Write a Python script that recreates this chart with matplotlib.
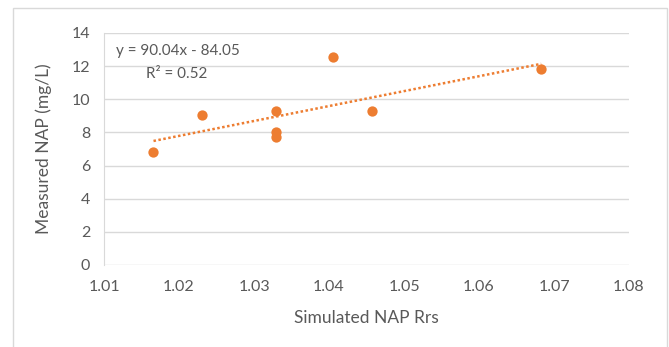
#!/usr/bin/env python3
import matplotlib
matplotlib.use('Agg')
from matplotlib import pyplot as plt
from matplotlib.patches import Rectangle
import numpy as np

# data
sim_rrs = [1.0166, 1.0231, 1.0329, 1.0329, 1.0329, 1.0405, 1.0457, 1.0683]
measured_nap = [6.80, 9.05, 9.30, 8.05, 7.75, 12.55, 9.30, 11.80]
slope, intercept = 90.04, -84.05
r2 = 0.52
x_ticks = [1.01, 1.02, 1.03, 1.04, 1.05, 1.06, 1.07, 1.08]
y_ticks = [0, 2, 4, 6, 8, 10, 12, 14]

ORANGE = '#ED7D31'
GRID = '#D9D9D9'
TEXT = '#595959'

plt.rcParams['font.family'] = ['Lato', 'DejaVu Sans']

fig = plt.figure(figsize=(6.69, 3.47), dpi=100)
fig.patches.append(Rectangle((13 / 669, -0.1), 654 / 669, 1.1 - 8 / 347,
                             transform=fig.transFigure, fill=False,
                             edgecolor=GRID, linewidth=1))

ax = fig.add_axes([104 / 669, 1 - 265 / 347, 525 / 669, 232 / 347])

ax.scatter(sim_rrs, measured_nap, s=55, color=ORANGE, zorder=3, linewidths=0)

xs = np.array([min(sim_rrs), max(sim_rrs)])
ax.plot(xs, slope * xs + intercept, linestyle=(0, (1, 1)), color=ORANGE,
        linewidth=1.8, zorder=2)

ax.set_xlim(1.01, 1.08)
ax.set_ylim(0, 14)
ax.set_xticks(x_ticks)
ax.set_xticklabels(['%.2f' % t for t in x_ticks])
ax.set_yticks(y_ticks)
ax.grid(axis='y', color=GRID, linewidth=1)
ax.set_axisbelow(True)
for side in ['top', 'right', 'bottom']:
    ax.spines[side].set_visible(False)
ax.spines['left'].set_color(GRID)
ax.tick_params(length=0, labelsize=11.5, labelcolor=TEXT)
ax.tick_params(axis='x', pad=11)
ax.tick_params(axis='y', pad=10)

ax.set_xlabel('Simulated NAP Rrs', fontsize=12.5, color=TEXT, labelpad=11)
ax.set_ylabel('Measured NAP (mg/L)', fontsize=12.5, color=TEXT, labelpad=14)

ax.text(1.0116, 12.9, 'y = 90.04x - 84.05', fontsize=11, color=TEXT,
        ha='left', va='center')
ax.text(1.0156, 11.5, 'R² = %.2f' % r2, fontsize=11, color=TEXT,
        ha='left', va='center')

fig.savefig('out.png', dpi=100)
